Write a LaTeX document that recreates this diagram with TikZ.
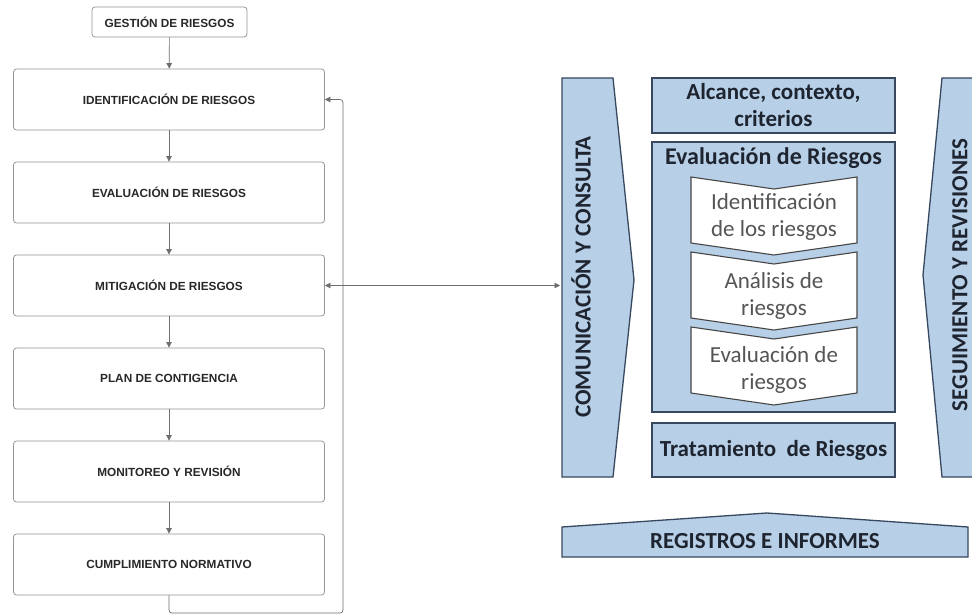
\documentclass[tikz,border=0pt]{standalone}
\usepackage{fontspec}
\setmainfont{Liberation Sans}
\newfontfamily\calib{Carlito}
\usetikzlibrary{arrows.meta}
\definecolor{lblue}{RGB}{183,208,231}
\definecolor{dblue}{RGB}{55,72,95}
\definecolor{lgray}{RGB}{150,150,150}
\definecolor{agray}{RGB}{110,110,110}
\definecolor{ltext}{RGB}{40,40,40}
\definecolor{rtext}{RGB}{30,36,48}
\definecolor{itext}{RGB}{85,85,85}
\definecolor{cborder}{RGB}{70,70,70}
\begin{document}
\begin{tikzpicture}[x=1pt,y=-1pt,
  stepbox/.style={draw=lgray,line width=0.8pt,rounded corners=3pt,fill=white,
    minimum width=311pt,minimum height=61pt,inner sep=0pt,
    font=\fontsize{11.8}{14}\selectfont\bfseries,text=ltext},
  topbox/.style={stepbox,minimum width=155pt,minimum height=30pt},
  flow/.style={draw=agray,line width=0.7pt,-{Triangle[length=5.5pt,width=5.5pt]}},
  flowtwo/.style={draw=agray,line width=0.7pt,{Triangle[length=5.5pt,width=5.5pt]}-{Triangle[length=5.5pt,width=5.5pt]}},
  blue/.style={fill=lblue,draw=dblue,line width=1.3pt},
  bluebox/.style={blue,minimum width=243pt,inner sep=0pt,align=center,
    font=\calib\fontsize{23}{27}\selectfont\bfseries,text=rtext},
  btext/.style={font=\calib\fontsize{23}{27}\selectfont\bfseries,text=rtext,inner sep=0pt,align=center},
  itxt/.style={font=\calib\fontsize{23}{27}\selectfont,text=itext,inner sep=0pt,align=center},
  chev/.style={fill=white,draw=cborder,line width=1.1pt}
]
\clip (0,0) rectangle (972,615);
\fill[white] (0,0) rectangle (972,615);

% ---- left flow ----
\node[topbox] (gest) at (169.5,22) {GESTIÓN DE RIESGOS};
\node[stepbox] (iden) at (169,99.5) {IDENTIFICACIÓN DE RIESGOS};
\node[stepbox] (eval) at (169,192.5) {EVALUACIÓN DE RIESGOS};
\node[stepbox] (miti) at (169,285.5) {MITIGACIÓN DE RIESGOS};
\node[stepbox] (plan) at (169,378.5) {PLAN DE CONTIGENCIA};
\node[stepbox] (moni) at (169,471.5) {MONITOREO Y REVISIÓN};
\node[stepbox] (cump) at (169,564.5) {CUMPLIMIENTO NORMATIVO};

\draw[flow] (gest) -- (iden);
\draw[flow] (iden) -- (eval);
\draw[flow] (eval) -- (miti);
\draw[flow] (miti) -- (plan);
\draw[flow] (plan) -- (moni);
\draw[flow] (moni) -- (cump);
\coordinate (loopc) at (343,613);
\draw[flow,rounded corners=3pt] (cump.south) |- (loopc) |- (iden.east);

% ---- right diagram ----
\draw[blue] (562,78) -- (613,78) -- (634,280) -- (613,477) -- (562,477) -- cycle;
\coordinate (commW) at (560,285.5);
\node[btext,rotate=90] (commt) at (581,277) {COMUNICACIÓN Y CONSULTA};

\draw[blue] (995,78) -- (942,78) -- (923,275) -- (942,477) -- (995,477);
\node[btext,rotate=90] (segt) at (960,275) {SEGUIMIENTO Y REVISIONES};

\draw[flowtwo] (miti.east) -- (commW);

\node[bluebox,minimum height=55pt] (alc) at (773.5,105.5) {Alcance, contexto,\\criterios};
\node[bluebox,minimum height=270pt] (evb) at (773.5,277) {};
\node[btext,font=\calib\fontsize{24}{28}\selectfont\bfseries] (evt) at (773.5,158) {Evaluación de Riesgos};

\draw[chev] (691,177) -- (774,189) -- (857,177) -- (857,243) -- (774,255) -- (691,243) -- cycle;
\draw[chev] (691,252) -- (774,264) -- (857,252) -- (857,318) -- (774,330) -- (691,318) -- cycle;
\draw[chev] (691,327) -- (774,339) -- (857,327) -- (857,393) -- (774,405) -- (691,393) -- cycle;
\node[itxt] (c1) at (774,217) {Identificación\\de los riesgos};
\node[itxt] (c2) at (774,296) {Análisis de\\riesgos};
\node[itxt] (c3) at (774,370) {Evaluación de\\riesgos};

\node[bluebox,minimum height=54pt] (trat) at (773.5,450) {Tratamiento\ \ de Riesgos};

\draw[blue] (562,557) -- (562,527) -- (767,513) -- (968,527) -- (968,557) -- cycle;
\node[btext] (reg) at (765,541) {REGISTROS E INFORMES};
\end{tikzpicture}
\end{document}
